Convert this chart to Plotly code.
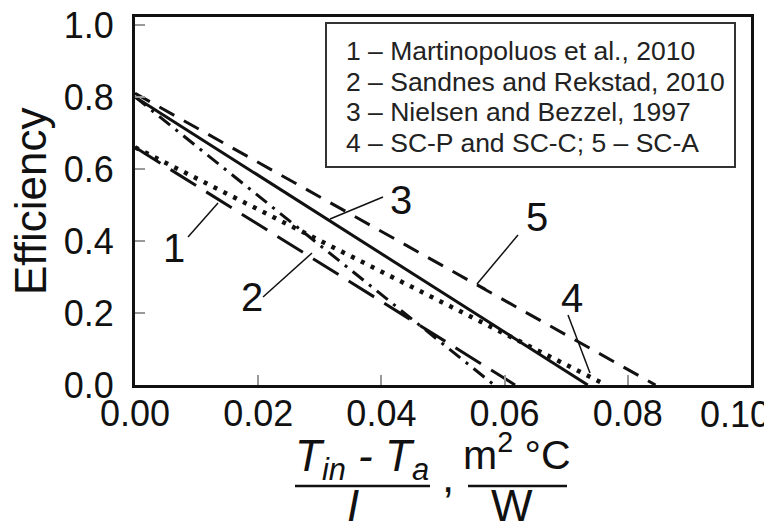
import plotly.graph_objects as go

# ---- data ----
curve_ids = ["1", "2", "3", "4", "5"]
eta0 = [0.66, 0.80, 0.80, 0.66, 0.81]          # efficiency at x = 0
x_zero = [0.0617, 0.0583, 0.0735, 0.0765, 0.0845]  # x where efficiency reaches 0
legend_lines = [
    "1 \u2013 Martinopoluos et al., 2010",
    "2 \u2013 Sandnes and Rekstad, 2010",
    "3 \u2013 Nielsen and Bezzel, 1997",
    "4 \u2013 SC-P and SC-C; 5 \u2013 SC-A",
]
x_ticks = [0.0, 0.02, 0.04, 0.06, 0.08, 0.10]
x_ticklabels = ["0.00", "0.02", "0.04", "0.06", "0.08", "0.10"]
y_ticks = [0.0, 0.2, 0.4, 0.6, 0.8, 1.0]
y_ticklabels = ["0.0", "0.2", "0.4", "0.6", "0.8", "1.0"]

# ---- styles ----
dashes = ["30px,12px", "14px,7px,3px,7px", "solid", "4px,7px", "17px,11px"]
widths = [3, 3, 3, 4.5, 3]

OFF = 8                      # default page body margin
W, H = 772 - OFF, 531 - OFF
PL, PR, PT, PB = 135, 751, 17, 385   # plot area in window pixels
L, T = PL - OFF, PT - OFF
R = W - (PR - OFF)
B = H - (PB - OFF)
PW, PH = PR - PL, PB - PT

def px(x):
    return (x - PL) / PW

def py(y):
    return (PB - y) / PH

FONT = "Liberation Sans, Arial, sans-serif"
fig = go.Figure()
for i in range(len(curve_ids)):
    fig.add_trace(go.Scatter(
        x=[0, x_zero[i]], y=[eta0[i], 0], mode="lines",
        line=dict(color="#111", width=widths[i], dash=dashes[i]),
        showlegend=False, hoverinfo="skip"))

common_x = dict(range=[0, 0.1], showgrid=False, zeroline=False,
                tickfont=dict(size=36), automargin=False,
                ticklabeloverflow="allow", ticks="inside", ticklen=10, tickwidth=2)
fig.update_layout(
    width=W, height=H, margin=dict(l=L, r=R, t=T, b=B),
    paper_bgcolor="white", plot_bgcolor="white",
    font=dict(family=FONT, color="#111"),
    xaxis=dict(tickvals=x_ticks[:-1], ticktext=x_ticklabels[:-1],
               showline=True, linewidth=3, linecolor="#111", mirror=True,
               tickcolor="#999", ticklabelstandoff=-5, **common_x),
    # last label sits a little left of its tick so it stays inside the window
    xaxis2=dict(overlaying="x", side="bottom", tickvals=x_ticks[-1:],
                ticktext=x_ticklabels[-1:], showline=False,
                tickcolor="rgba(0,0,0,0)", ticklabelshift=-16,
                ticklabelstandoff=5, **common_x),
    yaxis=dict(range=[0, 1.022], tickvals=y_ticks, ticktext=y_ticklabels,
               showgrid=False, zeroline=False, showline=True, linewidth=3,
               linecolor="#111", mirror=True, ticks="inside", ticklen=10,
               tickwidth=2, tickcolor="#999", tickfont=dict(size=36),
               ticklabelstandoff=11, automargin=False, ticklabeloverflow="allow"),
)
# invisible helper trace so the second x axis is drawn
fig.add_trace(go.Scatter(x=[0, 0.1], y=[None, None], xaxis="x2", yaxis="y",
                         mode="lines", showlegend=False, hoverinfo="skip"))

shapes = []
ann = []
# y-axis title
ann.append(dict(text="Efficiency", xref="paper", yref="paper", x=px(30), y=py(201),
                xanchor="center", yanchor="middle", textangle=-90, showarrow=False,
                font=dict(size=44, color="#111")))
# legend box
shapes.append(dict(type="rect", xref="paper", yref="paper",
                   x0=px(326), x1=px(735), y0=py(167), y1=py(23),
                   line=dict(color="#333", width=2), fillcolor="white"))
for k, t in enumerate(legend_lines):
    ann.append(dict(text=t, xref="paper", yref="paper", x=px(344), y=py(51 + 30.5 * k),
                    xanchor="left", yanchor="middle", showarrow=False,
                    font=dict(size=26.5, color="#222")))

# curve labels with leader lines
labels = [("1", 174, 248, (188, 237), (218, 203)),
          ("3", 401, 200, (383, 197), (330, 219)),
          ("2", 252, 297, (263, 297), (312, 253)),
          ("5", 537, 217, (518, 235), (477, 284)),
          ("4", 572, 298, (568, 315), (590, 373))]
for txt, tx, ty, p0, p1 in labels:
    ann.append(dict(text=txt, xref="paper", yref="paper", x=px(tx), y=py(ty),
                    xanchor="center", yanchor="middle", showarrow=False,
                    font=dict(size=40, color="#111")))
    shapes.append(dict(type="line", xref="paper", yref="paper",
                       x0=px(p0[0]), y0=py(p0[1]), x1=px(p1[0]), y1=py(p1[1]),
                       line=dict(color="#111", width=1.5)))
# small horizontal tick at end of leader 5
shapes.append(dict(type="line", xref="paper", yref="paper",
                   x0=px(477), y0=py(284), x1=px(486), y1=py(289),
                   line=dict(color="#111", width=1.5)))

# x-axis title built as two fractions
ann.append(dict(text="<i>T</i><sub><i>in</i></sub> <i>- T</i><sub><i>a</i></sub>",
                xref="paper", yref="paper", x=px(362), y=py(459),
                xanchor="center", yanchor="middle", showarrow=False,
                font=dict(size=44, color="#111")))
shapes.append(dict(type="line", xref="paper", yref="paper",
                   x0=px(295), x1=px(430), y0=py(486), y1=py(486),
                   line=dict(color="#111", width=2.5)))
ann.append(dict(text="<i>I</i>", xref="paper", yref="paper", x=px(353), y=py(505),
                xanchor="center", yanchor="middle", showarrow=False,
                font=dict(size=44, color="#111")))
ann.append(dict(text=",", xref="paper", yref="paper", x=px(448), y=py(476),
                xanchor="center", yanchor="middle", showarrow=False,
                font=dict(size=44, color="#111")))
ann.append(dict(text="m<sup>2</sup> \u00b0C", xref="paper", yref="paper", x=px(517), y=py(452),
                xanchor="center", yanchor="middle", showarrow=False,
                font=dict(size=41, color="#111")))
shapes.append(dict(type="line", xref="paper", yref="paper",
                   x0=px(468), x1=px(567), y0=py(486), y1=py(486),
                   line=dict(color="#111", width=2.5)))
ann.append(dict(text="W", xref="paper", yref="paper", x=px(512), y=py(505),
                xanchor="center", yanchor="middle", showarrow=False,
                font=dict(size=44, color="#111")))

fig.update_layout(shapes=shapes, annotations=ann)
fig.write_html("out.html")
